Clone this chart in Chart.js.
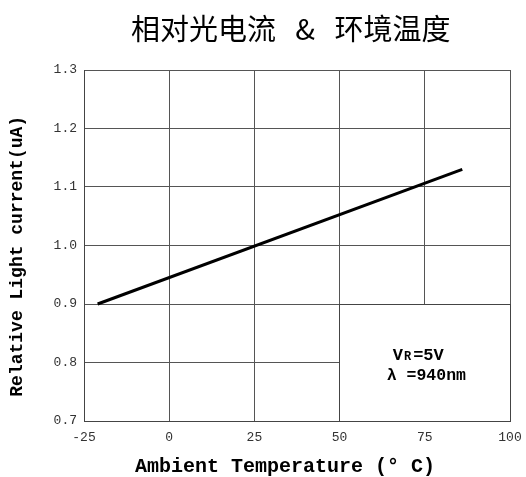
<!DOCTYPE html>
<html>
<head>
<meta charset="utf-8">
<script src="https://cdn.jsdelivr.net/npm/chart.js@4"></script>
<style>
  html, body { margin: 0; padding: 0; background: #fff; }
  #wrap { width: 526px; height: 477px; }
</style>
</head>
<body>
<div id="wrap"><canvas id="c" width="526" height="477"></canvas></div>
<script>
// ---- data ----
const titleText = '           相对光电流   &   环境温度';
const xTitle = 'Ambient Temperature (° C)  ';
const yTitle = 'Relative Light current(uA)  ';
const xTickValues = [-25, 0, 25, 50, 75, 100];
const xTickLabels = ['-25', '0', '25', '50', '75', '100'];
const yTickValues = [0.7, 0.8, 0.9, 1.0, 1.1, 1.2, 1.3];
const yTickLabels = ['0.7', '0.8', '0.9', '1.0', '1.1', '1.2', '1.3'];
const temperature = [-21, 86];
const relCurrent = [0.9, 1.13];
const noteLines = [['V', 'R', '=5V'], ['λ =940nm']];
// box region (data coords) where grid is hidden
const boxX = [50, 100];
const boxY = [0.7, 0.9];
const noteAnchor = { x: 65.6, y: [0.812, 0.778] };

const points = temperature.map((t, i) => ({ x: t, y: relCurrent[i] }));

const boxPlugin = {
  id: 'boxPlugin',
  beforeDatasetsDraw(chart) {
    const { ctx, scales: { x, y } } = chart;
    const al = p => Math.round(p - 0.5) + 0.5;
    const x1 = al(x.getPixelForValue(boxX[0]));
    const x2 = al(x.getPixelForValue(boxX[1]));
    const y1 = al(y.getPixelForValue(boxY[1]));
    const y2 = al(y.getPixelForValue(boxY[0]));
    ctx.save();
    ctx.fillStyle = '#fff';
    ctx.fillRect(x1, y1, x2 - x1, y2 - y1);
    ctx.strokeStyle = '#444';
    ctx.lineWidth = 1;
    ctx.strokeRect(x1, y1, x2 - x1, y2 - y1);
    // note text
    ctx.fillStyle = '#000';
    ctx.textBaseline = 'middle';
    ctx.textAlign = 'left';
    const tx = x.getPixelForValue(noteAnchor.x);
    const ty1 = y.getPixelForValue(noteAnchor.y[0]);
    const ty2 = y.getPixelForValue(noteAnchor.y[1]);
    ctx.font = 'bold 17px "Liberation Mono"';
    ctx.fillText(noteLines[0][0], tx, ty1);
    let w = ctx.measureText(noteLines[0][0]).width;
    ctx.font = 'bold 12px "Liberation Mono"';
    ctx.fillText(noteLines[0][1], tx + w + 1, ty1 + 2);
    w += ctx.measureText(noteLines[0][1]).width + 3;
    ctx.font = 'bold 17px "Liberation Mono"';
    ctx.fillText(noteLines[0][2], tx + w, ty1);
    ctx.font = 'bold 16.5px "Liberation Mono"';
    ctx.fillText(noteLines[1][0], tx - 6, ty2);
    ctx.restore();
  }
};

new Chart(document.getElementById('c'), {
  type: 'line',
  data: {
    datasets: [{
      data: points,
      borderColor: '#000',
      borderWidth: 3,
      pointRadius: 0,
      fill: false,
      tension: 0
    }]
  },
  options: {
    responsive: false,
    animation: false,
    layout: { padding: { left: 0, right: 16, top: 0, bottom: 0 } },
    plugins: {
      legend: { display: false },
      tooltip: { enabled: false },
      title: {
        display: true,
        text: titleText,
        color: '#000',
        font: { family: '"Noto Sans CJK SC"', size: 29, weight: 'normal', lineHeight: 1.2 },
        padding: { top: 12, bottom: 23.2 }
      }
    },
    scales: {
      x: {
        type: 'linear',
        min: xTickValues[0],
        max: xTickValues[xTickValues.length - 1],
        afterBuildTicks(scale) { scale.ticks = xTickValues.map(v => ({ value: v })); },
        afterFit(scale) { scale.height = 56; scale.paddingLeft = 0; scale.paddingRight = 0; },
        grid: { color: '#555', lineWidth: 1, drawTicks: false },
        border: { color: '#444', width: 1 },
        ticks: {
          padding: 9,
          color: '#333',
          font: { family: '"Liberation Mono"', size: 13 },
          callback: (v, i) => xTickLabels[i]
        },
        title: {
          display: true,
          text: xTitle,
          color: '#000',
          font: { family: '"Liberation Mono"', size: 20, weight: 'bold', lineHeight: 1 },
          padding: { top: 0, bottom: 0 }
        }
      },
      y: {
        type: 'linear',
        min: yTickValues[0],
        max: yTickValues[yTickValues.length - 1],
        afterBuildTicks(scale) { scale.ticks = yTickValues.map(v => ({ value: v })); },
        afterFit(scale) { scale.width = 84; scale.paddingTop = 0; scale.paddingBottom = 0; },
        grid: { color: '#555', lineWidth: 1, drawTicks: false },
        border: { color: '#444', width: 1 },
        ticks: {
          padding: 7,
          color: '#333',
          font: { family: '"Liberation Mono"', size: 13 },
          callback: (v, i) => yTickLabels[i]
        },
        title: {
          display: true,
          text: yTitle,
          color: '#000',
          font: { family: '"Liberation Mono"', size: 18, weight: 'bold', lineHeight: 1.2 },
          padding: { top: 7, bottom: 0 }
        }
      }
    }
  },
  plugins: [boxPlugin]
});
</script>
</body>
</html>
